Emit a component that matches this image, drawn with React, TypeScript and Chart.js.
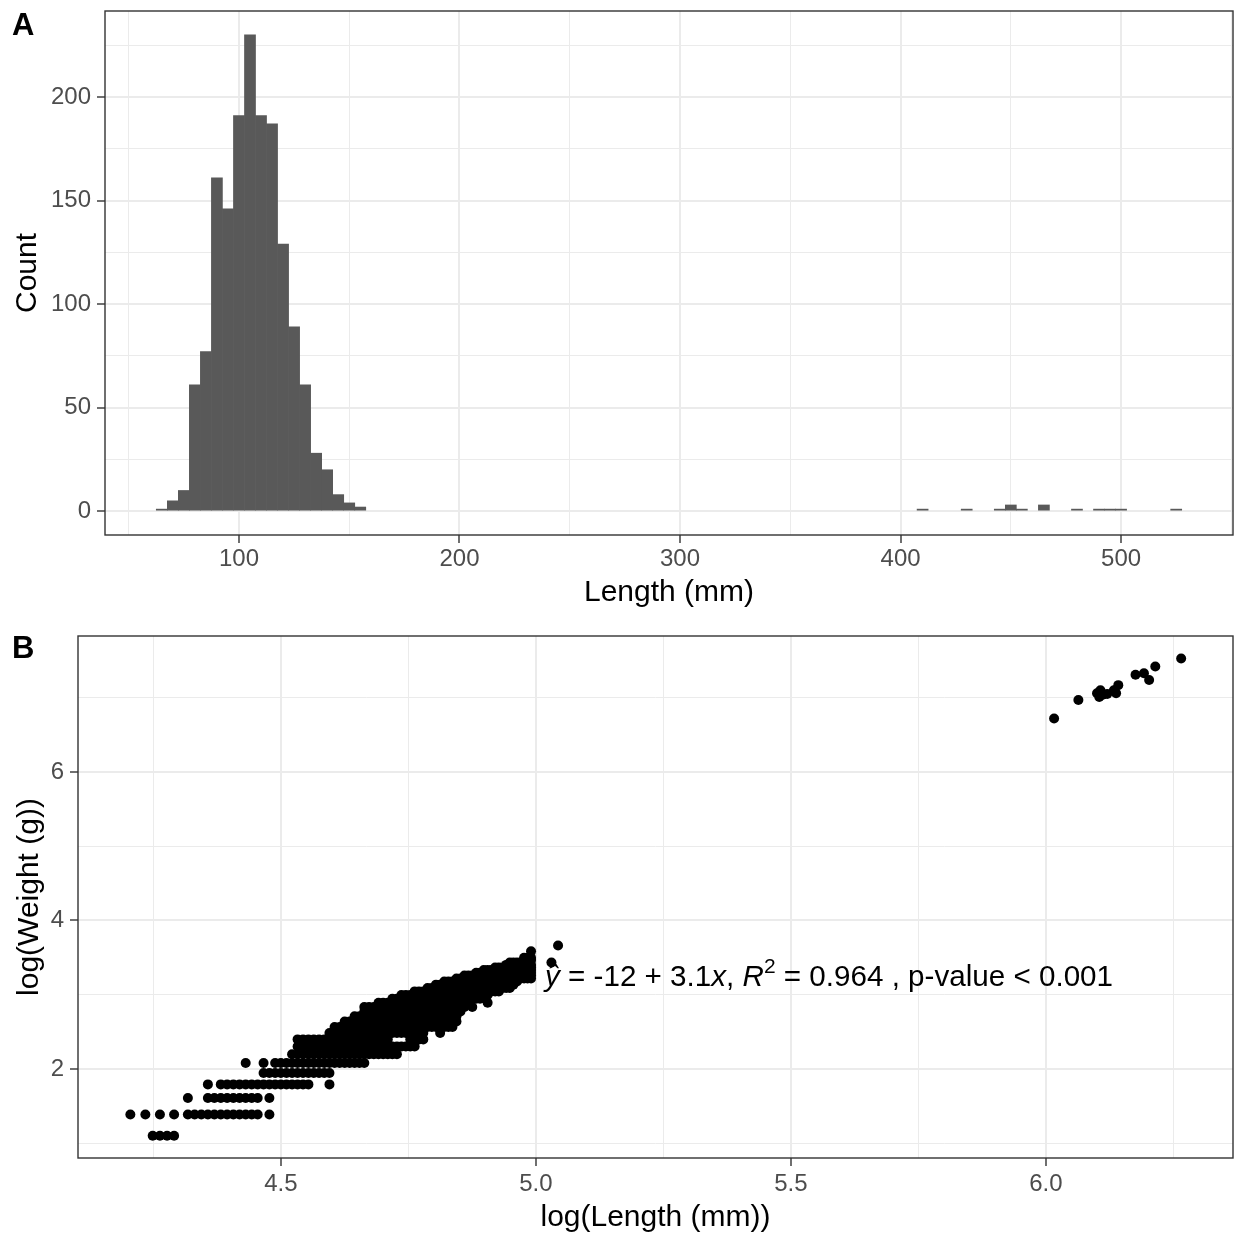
import React, { useEffect, useRef } from 'react';
import { Chart, registerables } from 'chart.js';

Chart.register(...registerables);

const FONT = "'Liberation Sans', Arial, Helvetica, sans-serif";

// ---------- Panel A: histogram of length (mm), binwidth 5 ----------
const binCenters = [65, 70, 75, 80, 85, 90, 95, 100, 105, 110, 115, 120, 125, 130, 135, 140, 145, 150, 155,
  410, 430, 445, 450, 455, 465, 480, 490, 495, 500, 525];
const binCounts = [1, 5, 10, 61, 77, 161, 146, 191, 230, 191, 187, 129, 89, 61, 28, 20, 8, 4, 2,
  1, 1, 1, 3, 1, 3, 1, 1, 1, 1, 1];
const histXTicks = [50, 100, 150, 200, 250, 300, 350, 400, 450, 500, 550];
const histYTicks = [0, 25, 50, 75, 100, 125, 150, 175, 200, 225];

// ---------- Panel B: log(weight) vs log(length) ----------
// weight (g) of each row of points, and the lengths (mm) found on that row
const rowWeights = [3, 4, 5, 6, 7, 8, 9, 10, 11, 12, 13, 14, 15, 16, 17, 18, 19, 20, 21, 22, 23, 24, 25, 26, 27, 28, 29, 30, 31, 32, 33, 36, 39];
const rowLengths: number[][] = [
  [70, 71, 72, 73],
  [67, 69, 71, 73, 75, 76, 77, 78, 79, 80, 81, 82, 83, 84, 85, 86, 88],
  [75, 78, 79, 80, 81, 82, 83, 84, 85, 86, 88],
  [78, 80, 81, 82, 83, 84, 85, 86, 87, 88, 89, 90, 91, 92, 93, 94, 95, 99],
  [87, 88, 89, 90, 91, 92, 93, 94, 95, 96, 97, 98, 99],
  [84, 87, 89, 90, 91, 92, 93, 94, 95, 96, 97, 98, 99, 100, 101, 102, 103, 104, 105, 106],
  [92, 93, 94, 95, 96, 97, 98, 99, 100, 101, 102, 103, 104, 105, 106, 107, 108, 109, 110, 111, 112, 113],
  [93, 94, 95, 96, 97, 98, 99, 100, 101, 102, 103, 104, 105, 106, 107, 108, 109, 110, 111, 112, 113, 114, 115, 116, 117],
  [93, 94, 95, 96, 97, 98, 99, 100, 101, 102, 103, 104, 105, 106, 107, 108, 109, 110, 111, 116, 117, 118, 119],
  [99, 100, 101, 102, 103, 104, 105, 106, 107, 108, 109, 110, 111, 112, 113, 114, 115, 116, 117, 118, 119, 123],
  [100, 101, 102, 103, 104, 105, 106, 107, 108, 109, 110, 111, 112, 113, 114, 115, 116, 117, 118, 119, 120, 121, 122, 123, 124, 125, 126],
  [102, 103, 104, 105, 106, 107, 108, 109, 110, 111, 112, 113, 114, 115, 116, 117, 118, 119, 120, 121, 122, 123, 124, 125, 126, 127],
  [104, 105, 106, 107, 108, 109, 110, 111, 112, 113, 114, 115, 116, 117, 118, 119, 120, 121, 122, 123, 124, 125, 126, 127],
  [106, 107, 108, 109, 110, 111, 112, 113, 114, 115, 116, 117, 118, 119, 120, 121, 122, 123, 124, 125, 126, 127, 128],
  [106, 107, 108, 109, 110, 111, 112, 113, 114, 115, 116, 117, 118, 119, 120, 121, 122, 123, 124, 125, 126, 127, 128, 129, 131],
  [109, 110, 111, 112, 113, 114, 115, 116, 117, 118, 119, 120, 121, 122, 123, 124, 125, 126, 127, 128, 129, 130, 135],
  [112, 113, 114, 115, 116, 117, 118, 119, 120, 121, 122, 123, 124, 125, 126, 127, 128, 129, 130, 131, 132, 133],
  [114, 115, 116, 117, 118, 119, 120, 121, 122, 123, 124, 125, 126, 127, 128, 129, 130, 131, 132, 133, 134, 135],
  [117, 118, 119, 120, 121, 122, 123, 124, 125, 126, 127, 128, 129, 130, 131, 132, 133, 134, 135, 136, 137, 138],
  [120, 121, 122, 123, 124, 125, 126, 127, 128, 129, 130, 131, 132, 133, 134, 135, 136, 137, 138, 139, 140, 141],
  [122, 123, 124, 125, 126, 127, 128, 129, 130, 131, 132, 133, 134, 135, 136, 137, 138, 139, 140, 141, 142],
  [124, 125, 126, 127, 128, 129, 130, 131, 132, 133, 134, 135, 136, 137, 138, 139, 140, 141, 142, 143],
  [127, 128, 129, 130, 131, 132, 133, 134, 135, 136, 137, 138, 139, 140, 141, 142, 143, 144, 145, 146, 147],
  [129, 130, 131, 132, 133, 134, 135, 136, 137, 138, 139, 140, 141, 142, 143, 144, 145, 146, 147],
  [132, 133, 134, 135, 136, 137, 138, 139, 140, 141, 142, 143, 144, 145, 146, 147],
  [134, 135, 136, 137, 138, 139, 140, 141, 142, 143, 144, 145, 146, 147],
  [137, 138, 139, 140, 141, 142, 143, 144, 145, 146, 147],
  [140, 141, 142, 143, 144, 145, 146, 147],
  [141, 142, 143, 144, 145, 146, 153],
  [147],
  [145, 146, 147],
  [147],
  [155],
];
// the large fish (upper-right group)
const bigLengths = [410, 430, 446, 449, 448, 451, 455, 463, 465, 461, 481, 489, 494, 500, 526];
const bigWeights = [829, 1064, 1164, 1212, 1108, 1141, 1153, 1164, 1300, 1212, 1495, 1525, 1394, 1669, 1863];

const logXTicks = [4.25, 4.5, 4.75, 5.0, 5.25, 5.5, 5.75, 6.0, 6.25];
const logYTicks = [1, 2, 3, 4, 5, 6, 7];

const eqSegments = [
  { t: 'ŷ', it: true, sup: false },
  { t: ' = ', it: false, sup: false },
  { t: '-12', it: false, sup: false },
  { t: ' + ', it: false, sup: false },
  { t: '3.1', it: false, sup: false },
  { t: 'x', it: true, sup: false },
  { t: ', ', it: false, sup: false },
  { t: 'R', it: true, sup: false },
  { t: '2', it: false, sup: true },
  { t: ' = 0.964 , p-value < 0.001', it: false, sup: false },
];

type AxisOpts = {
  min: number; max: number; ticks: number[];
  isMajor: (v: number) => boolean; fmt: (v: number) => string;
  size: number; horizontal: boolean; title: string; titlePad: number; tickPad: number;
};

function makeAxis(o: AxisOpts): any {
  return {
    type: 'linear',
    min: o.min,
    max: o.max,
    offset: false,
    afterBuildTicks: (axis: any) => { axis.ticks = o.ticks.map((v) => ({ value: v })); },
    afterFit: (axis: any) => {
      if (o.horizontal) axis.height = o.size; else axis.width = o.size;
      axis.paddingLeft = 0; axis.paddingRight = 0; axis.paddingTop = 0; axis.paddingBottom = 0;
    },
    ticks: {
      autoSkip: false, maxRotation: 0, minRotation: 0, padding: o.tickPad,
      color: '#4D4D4D', font: { family: FONT, size: 24 },
      callback: (v: any) => (o.isMajor(Number(v)) ? o.fmt(Number(v)) : ''),
    },
    grid: {
      offset: false,
      color: '#EBEBEB',
      lineWidth: (c: any) => (c.tick && o.isMajor(c.tick.value) ? 2 : 1),
      drawTicks: true,
      tickLength: 8,
      tickWidth: 1.4,
      tickColor: (c: any) => (c.tick && o.isMajor(c.tick.value) ? '#333333' : 'rgba(0,0,0,0)'),
    },
    border: { display: false },
    title: {
      display: true, text: o.title, color: '#000000', font: { family: FONT, size: 30 },
      padding: o.horizontal ? { top: 0, bottom: o.titlePad } : { top: o.titlePad, bottom: 0 },
    },
  };
}

function framePlugin(label: string, lx: number, ly: number) {
  return {
    id: 'frame' + label,
    afterDatasetsDraw(chart: any) {
      const { ctx, chartArea: a } = chart;
      ctx.save();
      ctx.strokeStyle = '#333333';
      ctx.lineWidth = 1.4;
      ctx.strokeRect(a.left, a.top, a.right - a.left, a.bottom - a.top);
      ctx.fillStyle = '#000000';
      ctx.font = `bold 31px ${FONT}`;
      ctx.textAlign = 'left';
      ctx.textBaseline = 'alphabetic';
      ctx.fillText(label, lx, ly);
      ctx.restore();
    },
  };
}

const eqPlugin = {
  id: 'eqLabel',
  afterDatasetsDraw(chart: any) {
    const { ctx, chartArea: a } = chart;
    const base = 30;
    const fontFor = (s: any, size: number) =>
      `${s.it ? 'italic ' : ''}${s.sup ? Math.round(size * 0.7) : size}px ${FONT}`;
    ctx.save();
    let total = 0;
    for (const s of eqSegments) { ctx.font = fontFor(s, base); total += ctx.measureText(s.t).width; }
    const size = base * (568 / total);
    let x = a.left + 467;
    const y = a.top + 350;
    ctx.fillStyle = '#000000';
    ctx.textBaseline = 'alphabetic';
    ctx.textAlign = 'left';
    for (const s of eqSegments) {
      ctx.font = fontFor(s, size);
      ctx.fillText(s.t, x, s.sup ? y - size * 0.45 : y);
      x += ctx.measureText(s.t).width;
    }
    ctx.restore();
  },
};

export default function App() {
  const refA = useRef<HTMLCanvasElement>(null);
  const refB = useRef<HTMLCanvasElement>(null);

  useEffect(() => {
    const histData = binCenters.map((x, i) => ({ x, y: binCounts[i] }));
    const chartA = new Chart(refA.current as HTMLCanvasElement, {
      type: 'bar',
      data: {
        datasets: [{
          data: histData as any,
          backgroundColor: '#595959',
          borderWidth: 0,
          barPercentage: 1,
          categoryPercentage: 1,
        }],
      },
      options: {
        responsive: false,
        animation: false,
        devicePixelRatio: 1,
        events: [],
        layout: { padding: { top: 11, right: 5, left: 0, bottom: 0 } },
        plugins: { legend: { display: false }, tooltip: { enabled: false } },
        scales: {
          x: makeAxis({
            min: 39.25, max: 550.75, ticks: histXTicks,
            isMajor: (v) => v % 100 === 0, fmt: (v) => String(v),
            size: 82, horizontal: true, title: 'Length (mm)', titlePad: 6, tickPad: 2,
          }),
          y: makeAxis({
            min: -11.5, max: 241.5, ticks: histYTicks,
            isMajor: (v) => v % 50 === 0, fmt: (v) => String(v),
            size: 105, horizontal: false, title: 'Count', titlePad: 10, tickPad: 6,
          }),
        },
      } as any,
      plugins: [framePlugin('A', 12, 35)],
    });

    const pts: { x: number; y: number }[] = [];
    rowWeights.forEach((w, i) => {
      rowLengths[i].forEach((len) => pts.push({ x: Math.log(len), y: Math.log(w) }));
    });
    bigLengths.forEach((len, i) => pts.push({ x: Math.log(len), y: Math.log(bigWeights[i]) }));

    const isHalf = (v: number) => Math.abs(v * 2 - Math.round(v * 2)) < 1e-6;
    const isEven = (v: number) => Math.abs(v / 2 - Math.round(v / 2)) < 1e-6;

    const chartB = new Chart(refB.current as HTMLCanvasElement, {
      type: 'scatter',
      data: {
        datasets: [{
          data: pts,
          backgroundColor: '#000000',
          borderWidth: 0,
          pointRadius: 5,
          pointHoverRadius: 5,
        }],
      },
      options: {
        responsive: false,
        animation: false,
        devicePixelRatio: 1,
        events: [],
        layout: { padding: { top: 19, right: 5, left: 0, bottom: 0 } },
        plugins: { legend: { display: false }, tooltip: { enabled: false } },
        scales: {
          x: makeAxis({
            min: 4.102, max: 6.367, ticks: logXTicks,
            isMajor: isHalf, fmt: (v) => v.toFixed(1),
            size: 77, horizontal: true, title: 'log(Length (mm))', titlePad: -1, tickPad: 4,
          }),
          y: makeAxis({
            min: 0.8, max: 7.832, ticks: logYTicks,
            isMajor: isEven, fmt: (v) => String(Math.round(v)),
            size: 78, horizontal: false, title: 'log(Weight (g))', titlePad: 12, tickPad: 6,
          }),
        },
      } as any,
      plugins: [eqPlugin, framePlugin('B', 12, 41)],
    });

    return () => { chartA.destroy(); chartB.destroy(); };
  }, []);

  return (
    <div style={{ position: 'absolute', left: 0, top: 0, width: 1238, height: 1235, background: '#ffffff', overflow: 'hidden' }}>
      <canvas ref={refA} width={1238} height={617} style={{ position: 'absolute', left: 0, top: 0, width: 1238, height: 617 }} />
      <canvas ref={refB} width={1238} height={618} style={{ position: 'absolute', left: 0, top: 617, width: 1238, height: 618 }} />
    </div>
  );
}
